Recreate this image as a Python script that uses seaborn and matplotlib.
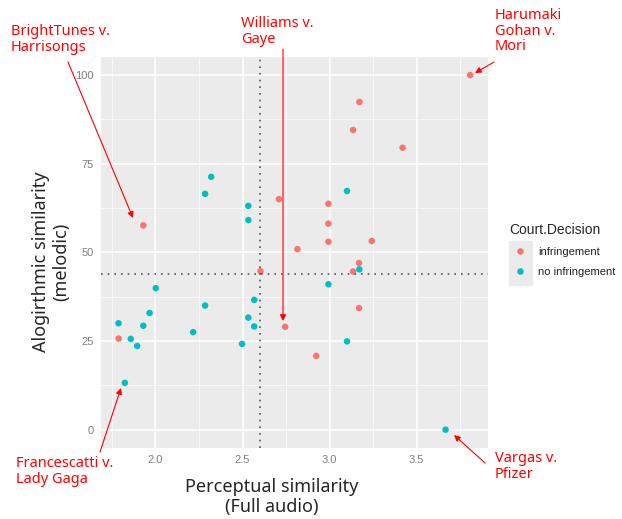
import matplotlib
matplotlib.use("Agg")
import matplotlib.pyplot as plt
from matplotlib.patches import Rectangle
from matplotlib.ticker import MultipleLocator
import pandas as pd
import seaborn as sns

# values
perceptual = [1.93, 2.32, 2.285, 2.533, 2.533, 2.709, 2.815, 3.807, 3.171, 3.135,
              3.419, 3.100, 2.993, 2.993, 2.993, 3.242, 2.603, 2.002, 1.788, 1.788,
              1.858, 1.895, 1.930, 1.966, 1.824, 2.216, 2.285, 2.497, 2.533, 2.567,
              2.567, 2.745, 3.169, 3.135, 3.171, 2.993, 3.169, 3.100, 2.923, 3.666]
melodic = [57.6, 71.3, 66.5, 63.1, 59.1, 65.0, 50.9, 100.0, 92.4, 84.5,
           79.5, 67.3, 63.7, 58.1, 53.0, 53.2, 44.7, 39.9, 30.0, 25.7,
           25.6, 23.6, 29.3, 32.9, 13.2, 27.5, 35.0, 24.2, 31.6, 36.6,
           29.1, 29.0, 47.0, 44.6, 45.2, 41.0, 34.3, 24.9, 20.8, 0.0]
I, N = "infringement", "no infringement"
decision = [I, N, N, N, N, I, I, I, I, I,
            I, N, I, I, I, I, I, N, N, I,
            N, N, N, N, N, N, N, N, N, N,
            N, I, I, I, N, N, I, N, I, N]

mean_perceptual = 2.6
mean_melodic = 44.0

# case labels: text, text position (px from top-left), arrow tail, arrow tip
cases = [
    ("BrightTunes v.\nHarrisongs", (11, 24), (68, 62), (133, 218)),
    ("Williams v.\nGaye", (241, 16), (283, 49), (283, 321)),
    ("Harumaki\nGohan v.\nMori", (495, 8), (494, 62), (475, 73)),
    ("Francescatti v.\nLady Gaga", (16, 456), (100, 452), (121, 388)),
    ("Vargas v.\nPfizer", (495, 451), (485, 463), (454, 435)),
]

df = pd.DataFrame({"Perceptual": perceptual, "Melodic": melodic,
                   "Court.Decision": decision})

sns.set_theme(style="darkgrid", rc={"axes.facecolor": "#EBEBEB",
                                    "grid.color": "white"})
plt.rcParams["font.family"] = ["Liberation Sans", "DejaVu Sans"]

W, H = 622, 519
fig = plt.figure(figsize=(W / 100, H / 100), dpi=100)
ax = fig.add_axes([101 / W, 1 - 448.3 / H, 386.7 / W, 391 / H])

sns.scatterplot(data=df, x="Perceptual", y="Melodic", hue="Court.Decision",
                hue_order=[I, N], palette=["#F8766D", "#00BFC4"],
                s=22, linewidth=0, ax=ax, legend=True)

ax.axvline(mean_perceptual, color="#555555", ls=(0, (1, 3)), lw=1.2)
ax.axhline(mean_melodic, color="#555555", ls=(0, (1, 3)), lw=1.2)

ax.set_xlim(1.687, 3.908)
ax.set_ylim(-5.25, 105)
ax.xaxis.set_major_locator(MultipleLocator(0.5))
ax.xaxis.set_minor_locator(MultipleLocator(0.25))
ax.yaxis.set_major_locator(MultipleLocator(25))
ax.yaxis.set_minor_locator(MultipleLocator(12.5))
ax.grid(which="major", color="white", lw=1.1)
ax.grid(which="minor", color="white", lw=0.5)
for s in ax.spines.values():
    s.set_visible(False)
ax.tick_params(which="major", length=3, width=0.8, color="#333333",
               labelsize=8, labelcolor="#7F7F7F", pad=2)
ax.tick_params(which="minor", length=0)

ax.set_xlabel("Perceptual similarity\n(Full audio)", family="Noto Sans",
              fontsize=13, linespacing=1.15)
ax.set_ylabel("Alogirthmic similarity\n(melodic)", family="Noto Sans",
              fontsize=13, linespacing=1.15)
ax.xaxis.set_label_coords((272 - 101) / 386.7, -0.075)
ax.yaxis.set_label_coords((70 - 101) / 386.7, (448.3 - 262) / 391)

# legend outside, ggplot style
handles, labels = ax.get_legend_handles_labels()
ax.get_legend().remove()
fig.add_artist(Rectangle((509 / W, 1 - 285 / H), 22.5 / W, 44 / H,
                         transform=fig.transFigure, color="#EBEBEB", zorder=1))
leg = fig.legend(handles, labels, title="Court.Decision", loc="upper left",
                 bbox_to_anchor=(499 / W, 1 - 213 / H), frameon=False,
                 fontsize=8, title_fontsize=10, handletextpad=0.6,
                 labelspacing=0.9, markerscale=1.0)
leg._legend_box.align = "left"
for t in leg.get_texts():
    t.set_color("#222222")

for text, (tx, ty), tail, tip in cases:
    fig.text(tx / W, 1 - ty / H, text, color="red", fontsize=10.5,
             family="Noto Sans", va="top", ha="left", linespacing=1.05)
    ax.annotate("", xy=(tip[0], H - tip[1]), xycoords="figure pixels",
                xytext=(tail[0], H - tail[1]), textcoords="figure pixels",
                arrowprops=dict(arrowstyle="-|>", color="red", lw=0.8,
                                mutation_scale=9, shrinkA=0, shrinkB=0),
                annotation_clip=False)

fig.savefig("out.png", dpi=100)
